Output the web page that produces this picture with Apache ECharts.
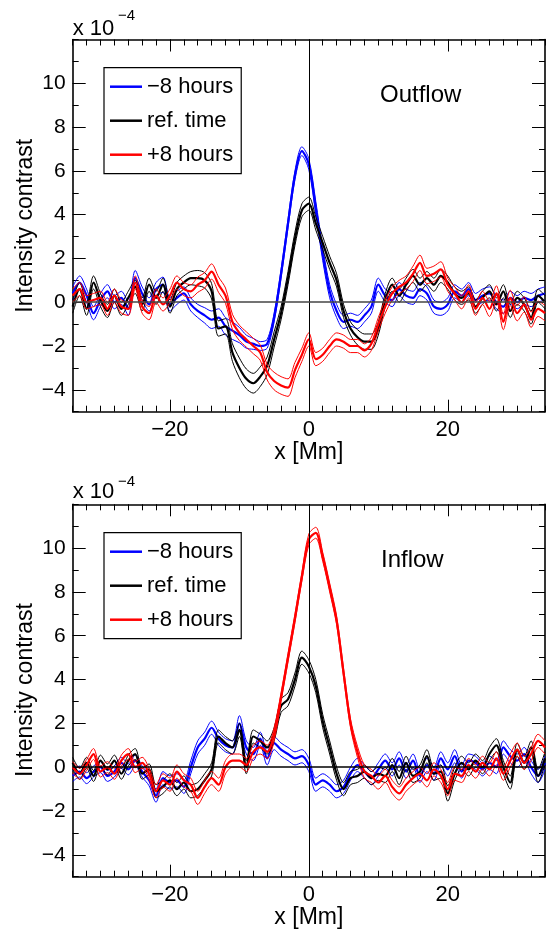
<!DOCTYPE html>
<html>
<head>
<meta charset="utf-8">
<script src="https://cdn.jsdelivr.net/npm/echarts@6/dist/echarts.min.js"></script>
<style>html,body{margin:0;padding:0;background:#fff}#c{width:549px;height:935px}</style>
</head>
<body>
<div id="c"></div>
<script>
// x positions [Mm]
const xs = [-34,-33,-32,-31,-30,-29,-28,-27,-26,-25,-24,-23,-22,-21,-20,-19,-18,-17,-16,-15,-14,-13,-12,-11,-10,-9,-8,-7,-6,-5,-4,-3,-2,-1,0,1,2,3,4,5,6,7,8,9,10,11,12,13,14,15,16,17,18,19,20,21,22,23,24,25,26,27,28,29,30,31,32,33,34];

// Top panel (Outflow), units of 1e-4
const outBlue = [0.4,0.9,0.3,-0.5,0.1,0.5,0.0,0.2,-0.3,1.1, 0.4,-0.1,0.6,0.8,-0.1,0.2,0.4,-0.1,-0.4,-0.6, -0.8,-0.7,-1.1,-1.3,-1.5,-1.8,-1.9,-2.0,-1.9,-0.7, 1.3,3.6,5.8,6.9,6.3,4.3,2.2,0.5,-0.4,-0.9, -0.8,-0.9,-0.6,-0.2,0.8,0.3,0.1,0.6,0.3,0.2, 0.6,0.4,-0.2,-0.3,-0.1,0.5,0.3,0.6,0.1,0.3, 0.4,0.0,-0.2,0.2,0.0,0.2,0.1,0.3,0.4];
const outBlueErr = [0.3,0.3,0.3,0.3,0.3,0.3,0.3,0.3,0.3,0.35, 0.3,0.3,0.3,0.35,0.3,0.3,0.3,0.3,0.3,0.35, 0.4,0.4,0.4,0.4,0.35,0.3,0.25,0.2,0.2,0.2, 0.2,0.2,0.2,0.2,0.25,0.3,0.3,0.3,0.3,0.3, 0.3,0.3,0.3,0.3,0.3,0.3,0.3,0.3,0.3,0.3, 0.3,0.3,0.3,0.3,0.3,0.3,0.3,0.3,0.3,0.3, 0.3,0.3,0.3,0.3,0.3,0.3,0.3,0.3,0.3];
const outBlack = [-0.2,0.6,-0.3,0.9,0.1,-0.4,0.3,-0.3,0.2,0.7, -0.1,0.8,0.2,0.8,-0.2,0.6,0.9,1.1,1.1,1.0, 0.5,-1.2,-1.1,-2.3,-3.0,-3.5,-3.7,-3.4,-2.9,-1.7, -0.5,1.1,2.9,4.2,4.5,3.6,2.7,1.8,1.0,-0.4, -1.2,-1.6,-1.8,-1.8,-1.2,0.1,0.8,0.3,0.8,1.2, 0.8,1.1,0.8,1.2,0.9,0.4,0.2,0.4,-0.2,0.2, 0.5,-0.1,0.5,-0.4,0.2,-0.1,-0.7,0.3,0.0];
const outBlackErr = [0.3,0.3,0.3,0.3,0.3,0.3,0.3,0.3,0.3,0.3, 0.3,0.3,0.3,0.3,0.3,0.3,0.3,0.3,0.35,0.35, 0.35,0.35,0.35,0.4,0.45,0.45,0.45,0.45,0.4,0.35, 0.3,0.3,0.3,0.3,0.3,0.3,0.3,0.3,0.3,0.3, 0.3,0.35,0.35,0.35,0.3,0.3,0.3,0.3,0.3,0.3, 0.3,0.3,0.3,0.3,0.3,0.3,0.3,0.3,0.3,0.3, 0.3,0.3,0.3,0.3,0.3,0.3,0.3,0.3,0.3];
const outRed = [0.3,0.6,0.0,0.1,0.2,-0.3,0.3,-0.2,-0.3,0.9, -0.2,-0.5,0.3,-0.1,0.3,0.9,0.6,0.5,0.8,1.0, 1.4,0.8,0.3,-0.9,-1.4,-1.7,-2.0,-2.3,-3.2,-3.6, -3.8,-3.9,-3.1,-2.4,-1.7,-2.6,-2.4,-2.0,-1.7,-1.8, -2.0,-2.0,-2.2,-1.9,-1.0,-0.2,0.4,0.7,0.9,1.3, 1.8,1.2,1.3,1.5,0.8,0.4,0.0,0.5,-0.3,0.2, -0.3,0.4,-0.9,0.2,-0.5,-0.1,-0.8,-0.3,-0.5];
const outRedErr = [0.3,0.3,0.3,0.3,0.3,0.3,0.3,0.3,0.3,0.3, 0.3,0.3,0.3,0.3,0.3,0.3,0.3,0.3,0.35,0.35, 0.35,0.35,0.35,0.35,0.35,0.35,0.35,0.35,0.35,0.4, 0.4,0.4,0.35,0.3,0.3,0.3,0.3,0.3,0.3,0.3, 0.3,0.3,0.3,0.3,0.3,0.3,0.3,0.3,0.3,0.35, 0.35,0.35,0.35,0.35,0.3,0.3,0.3,0.3,0.3,0.3, 0.35,0.35,0.35,0.35,0.35,0.35,0.35,0.35,0.35];

// Bottom panel (Inflow), units of 1e-4
const inBlue = [-0.4,-0.2,-0.5,-0.2,0.0,-0.4,-0.2,0.2,-0.1,0.3, -0.2,-0.6,-1.3,-0.5,-0.7,-0.6,-0.9,0.0,0.9,1.3, 1.8,1.3,1.0,0.9,2.0,0.9,0.6,1.3,0.4,1.1, 0.8,0.6,0.4,0.5,0.1,-0.8,-0.6,-0.8,-1.1,-0.9, -0.3,0.1,-0.2,-0.5,-0.1,0.3,-0.1,0.4,-0.2,0.3, -0.4,0.1,-0.3,0.4,-0.1,0.5,-0.2,0.3,0.2,-0.1, 0.2,0.0,0.9,0.5,0.3,0.6,0.0,-0.4,0.2];
const inBlueErr = [0.25,0.25,0.25,0.25,0.25,0.25,0.25,0.25,0.25,0.25, 0.25,0.25,0.3,0.3,0.3,0.3,0.3,0.3,0.3,0.3, 0.3,0.3,0.3,0.3,0.35,0.3,0.3,0.3,0.3,0.3, 0.3,0.3,0.3,0.3,0.3,0.3,0.3,0.3,0.3,0.3, 0.3,0.3,0.3,0.3,0.3,0.3,0.3,0.3,0.3,0.3, 0.3,0.3,0.3,0.3,0.3,0.3,0.3,0.3,0.3,0.3, 0.3,0.3,0.3,0.3,0.3,0.3,0.3,0.3,0.3];
const inBlack = [0.2,-0.3,0.2,-0.4,0.3,-0.1,0.3,-0.3,0.3,0.6, -0.3,-0.1,-1.1,-0.9,-0.6,-1.0,-0.7,-1.1,-1.0,-0.6, -0.1,1.4,1.1,0.9,1.7,0.0,1.4,1.2,0.9,1.5, 2.8,3.1,4.0,5.0,4.6,3.7,2.1,0.9,-0.3,-1.0, -0.5,-0.4,-0.2,-0.5,-0.3,-0.4,0.1,-0.5,0.2,-0.4, -0.2,0.5,-0.3,-0.2,-1.2,-0.3,0.2,-0.1,0.3,0.0, 0.6,1.0,0.0,-0.7,0.8,0.2,0.9,-0.4,0.4];
const inBlackErr = [0.25,0.25,0.25,0.25,0.25,0.25,0.25,0.25,0.25,0.25, 0.25,0.25,0.3,0.3,0.3,0.3,0.3,0.3,0.3,0.3, 0.3,0.3,0.3,0.3,0.3,0.3,0.3,0.3,0.3,0.3, 0.3,0.3,0.3,0.3,0.3,0.3,0.3,0.3,0.3,0.3, 0.3,0.3,0.3,0.3,0.3,0.3,0.3,0.3,0.3,0.3, 0.3,0.3,0.3,0.3,0.35,0.3,0.3,0.3,0.3,0.3, 0.3,0.3,0.3,0.3,0.3,0.3,0.3,0.3,0.3];
const inRed = [0.0,-0.3,0.1,0.6,-0.2,0.0,-0.3,0.3,0.6,0.0, 0.2,-0.3,-1.1,-0.6,-0.8,-0.2,-0.6,-0.8,-1.4,-0.9, -0.5,-0.8,0.0,0.3,0.3,0.1,0.7,0.9,0.7,1.5, 3.2,5.0,6.8,8.7,10.4,10.7,9.6,8.2,6.7,4.3, 2.0,0.7,-0.2,-0.4,-0.7,-0.4,-0.9,-1.2,-0.8,-0.5, -0.3,-0.6,-0.1,-0.4,-1.0,-0.3,-0.4,0.1,-0.2,0.2, -0.1,0.4,-0.3,0.3,0.8,0.2,0.6,1.2,0.9];
const inRedErr = [0.25,0.25,0.25,0.25,0.25,0.25,0.25,0.25,0.25,0.25, 0.25,0.25,0.3,0.3,0.3,0.3,0.3,0.3,0.3,0.3, 0.3,0.3,0.3,0.3,0.3,0.3,0.3,0.3,0.3,0.3, 0.2,0.2,0.2,0.2,0.25,0.25,0.2,0.2,0.2,0.2, 0.2,0.25,0.3,0.3,0.3,0.3,0.3,0.3,0.3,0.3, 0.3,0.3,0.3,0.3,0.3,0.3,0.3,0.3,0.3,0.3, 0.3,0.3,0.3,0.3,0.3,0.3,0.3,0.3,0.3];

const legendNames = ['\u22128 hours', 'ref. time', '+8 hours'];
const colors = ['#0000ff', '#000000', '#ff0000'];
const panelTitles = ['Outflow', 'Inflow'];
const xTickVals = [-20, 0, 20];
const yTickVals = [-4, -2, 0, 2, 4, 6, 8, 10];

const panels = [
  {curves: [[outBlue, outBlueErr], [outBlack, outBlackErr], [outRed, outRedErr]], top: 39.5, h: 372.2, zeroColor: '#444'},
  {curves: [[inBlue, inBlueErr], [inBlack, inBlackErr], [inRed, inRedErr]], top: 504.3, h: 372.4, zeroColor: '#000'}
];

const FONT = 'Liberation Sans, Arial, Helvetica, sans-serif';
const minusFmt = v => (v < 0 ? '\u2212' + Math.abs(v) : String(v));

const grids = [], xAxes = [], yAxes = [], series = [], legends = [], graphics = [];

panels.forEach((p, g) => {
  grids.push({left: 72.7, top: p.top, width: 472.3, height: p.h, containLabel: false});
  const lineAx = {show: true, onZero: false, lineStyle: {color: '#000', width: 1.6}};
  const noLine = {show: false, onZero: false};
  // x axes: main bottom, minor bottom, main top, minor top
  xAxes.push({gridIndex: g, type: 'value', min: -34, max: 34, position: 'bottom',
    axisLine: lineAx, splitLine: {show: false},
    axisTick: {show: true, inside: true, length: 12, customValues: xTickVals, lineStyle: {color: '#000', width: 1}},
    axisLabel: {show: true, customValues: xTickVals, formatter: minusFmt, color: '#000', fontSize: 22, fontFamily: FONT, margin: 7},
    name: 'x [Mm]', nameLocation: 'middle', nameGap: 29,
    nameTextStyle: {color: '#000', fontSize: 23, fontFamily: FONT}});
  xAxes.push({gridIndex: g, type: 'value', min: -34, max: 34, interval: 2, position: 'bottom',
    axisLine: noLine, splitLine: {show: false}, axisLabel: {show: false},
    axisTick: {show: true, inside: true, length: 6, lineStyle: {color: '#000', width: 1}}});
  xAxes.push({gridIndex: g, type: 'value', min: -34, max: 34, position: 'top',
    axisLine: lineAx, splitLine: {show: false}, axisLabel: {show: false},
    axisTick: {show: true, inside: true, length: 12, customValues: xTickVals, lineStyle: {color: '#000', width: 1}}});
  xAxes.push({gridIndex: g, type: 'value', min: -34, max: 34, interval: 2, position: 'top',
    axisLine: noLine, splitLine: {show: false}, axisLabel: {show: false},
    axisTick: {show: true, inside: true, length: 6, lineStyle: {color: '#000', width: 1}}});
  // y axes
  yAxes.push({gridIndex: g, type: 'value', min: -5, max: 12, position: 'left',
    axisLine: lineAx, splitLine: {show: false},
    axisTick: {show: true, inside: true, length: 13, customValues: yTickVals, lineStyle: {color: '#000', width: 1}},
    axisLabel: {show: true, customValues: yTickVals, formatter: minusFmt, color: '#000', fontSize: 21, fontFamily: FONT, margin: 7}});
  yAxes.push({gridIndex: g, type: 'value', min: -5, max: 12, interval: 1, position: 'left',
    axisLine: noLine, splitLine: {show: false}, axisLabel: {show: false},
    axisTick: {show: true, inside: true, length: 6, lineStyle: {color: '#000', width: 1}}});
  yAxes.push({gridIndex: g, type: 'value', min: -5, max: 12, position: 'right',
    axisLine: lineAx, splitLine: {show: false}, axisLabel: {show: false},
    axisTick: {show: true, inside: true, length: 13, customValues: yTickVals, lineStyle: {color: '#000', width: 1}}});
  yAxes.push({gridIndex: g, type: 'value', min: -5, max: 12, interval: 1, position: 'right',
    axisLine: noLine, splitLine: {show: false}, axisLabel: {show: false},
    axisTick: {show: true, inside: true, length: 6, lineStyle: {color: '#000', width: 1}}});

  const xi = 4 * g, yi = 4 * g;
  // zero reference lines
  series.push({type: 'line', xAxisIndex: xi, yAxisIndex: yi, data: [], silent: true,
    markLine: {silent: true, symbol: 'none', label: {show: false}, animation: false,
      data: [
        {xAxis: 0, lineStyle: {color: '#000', width: 1, type: 'solid'}},
        {yAxis: 0, lineStyle: {color: p.zeroColor, width: 1.5, type: 'solid'}}
      ]}});
  p.curves.forEach((c, k) => {
    const [mean, err] = c;
    const lo = xs.map((x, i) => [x, mean[i] - err[i]]);
    const hi = xs.map((x, i) => [x, mean[i] + err[i]]);
    const mid = xs.map((x, i) => [x, mean[i]]);
    const base = {type: 'line', xAxisIndex: xi, yAxisIndex: yi, showSymbol: false, symbol: 'none', smooth: 0.3, silent: true, color: colors[k]};
    series.push(Object.assign({}, base, {name: legendNames[k] + ' lower', data: lo, lineStyle: {color: colors[k], width: 1}}));
    series.push(Object.assign({}, base, {name: legendNames[k] + ' upper', data: hi, lineStyle: {color: colors[k], width: 1}}));
    series.push(Object.assign({}, base, {name: legendNames[k], data: mid, lineStyle: {color: colors[k], width: 2.2}}));
  });

  legends.push({orient: 'vertical', left: 104, top: g === 0 ? 67.7 : 532.7, data: legendNames,
    icon: 'rect', itemWidth: 32, itemHeight: 2.5, itemGap: 12, selectedMode: false,
    borderColor: '#000', borderWidth: 1.2, backgroundColor: '#fff', padding: [8, 8, 8, 6],
    textStyle: {color: '#000', fontSize: 22, fontFamily: FONT}});

  graphics.push({type: 'text', x: 26, y: g === 0 ? 225.7 : 690, rotation: Math.PI / 2,
    style: {text: 'Intensity contrast', fontSize: 23, fontFamily: FONT, fill: '#000', align: 'center', verticalAlign: 'middle'}});
  graphics.push({type: 'text', left: 72.7, top: g === 0 ? 18 : 481,
    style: {text: 'x 10', fontSize: 22, fontFamily: FONT, fill: '#000'}});
  graphics.push({type: 'text', left: 118, top: g === 0 ? 8 : 474,
    style: {text: '\u22124', fontSize: 15, fontFamily: FONT, fill: '#000'}});
  graphics.push({type: 'text', left: g === 0 ? 380 : 381, top: g === 0 ? 83 : 548,
    style: {text: panelTitles[g], fontSize: 24, fontFamily: FONT, fill: '#000'}});
});

const chart = echarts.init(document.getElementById('c'), null, {renderer: 'canvas'});
chart.setOption({
  animation: false,
  backgroundColor: '#fff',
  grid: grids, xAxis: xAxes, yAxis: yAxes,
  legend: legends, graphic: graphics, series: series
});
</script>
</body>
</html>
